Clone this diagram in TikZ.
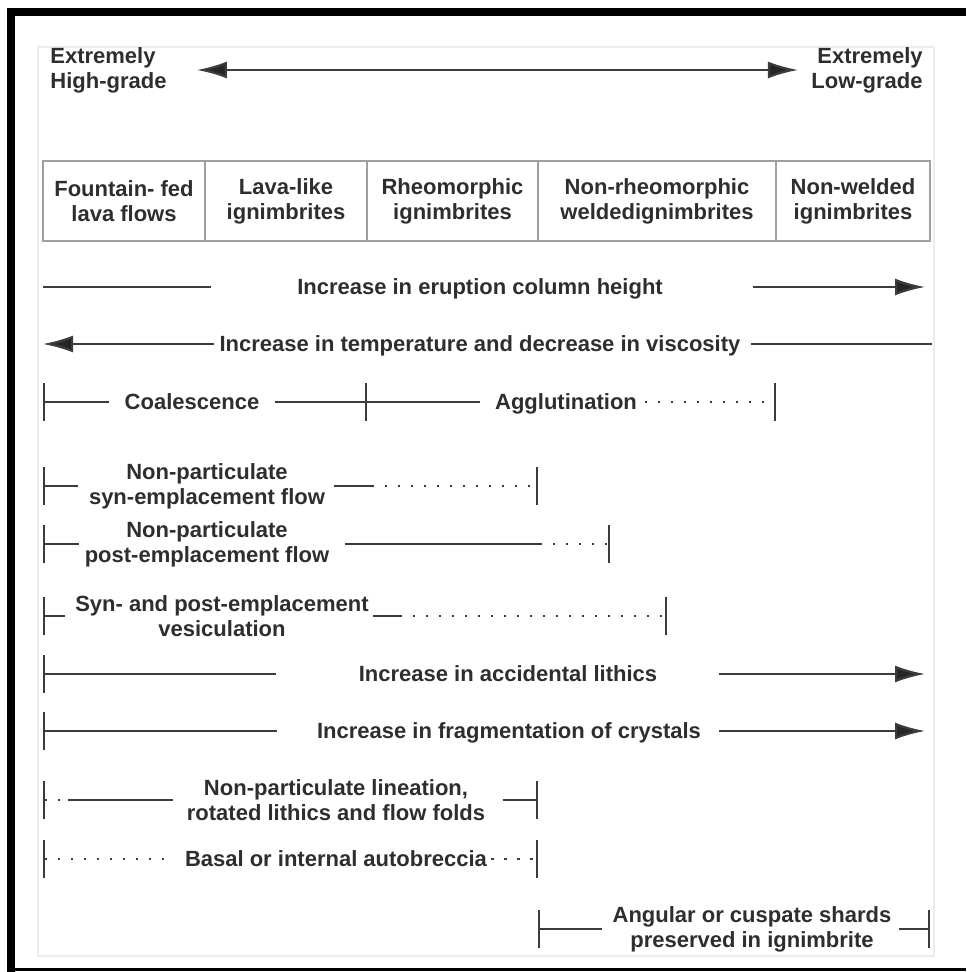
\documentclass[tikz,border=0pt]{standalone}
\usepackage{fontspec}
\setmainfont{Liberation Sans}
\usetikzlibrary{arrows.meta, positioning}
\definecolor{ink}{HTML}{2E2E2E}
\definecolor{rule}{HTML}{3C3C3C}

\begin{document}
\begin{tikzpicture}[
  x=0.5pt, y=-0.5pt,
  lbl/.style={inner sep=0pt, align=center, text=ink,
              font=\fontsize{11}{12.5}\selectfont\bfseries},
  one/.style={lbl, text height=9pt, text depth=1.1pt},
  cell/.style={lbl, draw=gray!75, line width=0.75pt, outer sep=0pt,
               minimum height=40pt},
  ln/.style={rule, line width=1.1pt},
  dots/.style={ln, dash pattern=on 1.1pt off 5.4pt},
  arr/.style={ln, arrows={-Latex[length=15pt,width=8.5pt,fill=black!85]}},
  barA/.style={arrows={Bar[width=19pt]-}},
  barB/.style={arrows={-Bar[width=19pt]}},
]
\useasboundingbox (0,0) rectangle (966,972);

%% ---- frame ----
\fill[black] (7,8) rectangle (966,16);
\fill[black] (7,8) rectangle (15,972);
\fill[black] (7,968) rectangle (966,971);
\draw[gray!15, line width=0.75pt] (38,47) rectangle (934,956);

%% ---- grade scale ----
\node[lbl, align=left, anchor=west]  (hi) at (50,70)  {Extremely\\High-grade};
\node[lbl, align=right, anchor=east] (lo) at (923,70) {Extremely\\Low-grade};
\draw[ln, arrows={Latex[length=15pt,width=8.5pt,fill=black!85]-Latex[length=15pt,width=8.5pt,fill=black!85]},
      shorten <=15pt, shorten >=6.5pt] (hi) -- (lo);

%% ---- deposit types ----
\node[cell, minimum width=81pt, anchor=north west] (fount) at (43,161) {Fountain- fed\\lava flows};
\node[cell, minimum width=81pt,   right=0pt of fount]   (lava)    {Lava-like\\ignimbrites};
\node[cell, minimum width=85.5pt, right=0pt of lava]    (rheo)    {Rheomorphic\\ignimbrites};
\node[cell, minimum width=119pt,  right=0pt of rheo]    (nonrheo) {Non-rheomorphic\\weldedignimbrites};
\node[cell, minimum width=77pt,   right=0pt of nonrheo] (nonweld) {Non-welded\\ignimbrites};

%% ---- trends ----
\node[one] (erupt) at (480,287) {Increase in eruption column height};
\coordinate (eruptL) at (43,287);
\coordinate (eruptR) at (925,287);
\draw[ln, shorten >=43pt] (eruptL) -- (erupt);
\draw[arr, shorten <=45pt] (erupt) -- (eruptR);

\node[one] (temp) at (480,344) {Increase in temperature and decrease in viscosity};
\coordinate (tempL) at (43,344);
\coordinate (tempR) at (932,344);
\draw[arr, shorten <=2.5pt] (temp) -- (tempL);
\draw[ln, shorten <=5pt] (temp) -- (tempR);

%% ---- processes ----
\coordinate (coalA) at (43,402);
\coordinate (coalB) at (367,402);
\coordinate (coalC) at (776,402);
\node[one] (coal) at (192,402) {Coalescence};
\node[one] (aggl) at (566,402) {Agglutination};
\draw[ln, barA, shorten >=7.5pt] (coalA) -- (coal);
\draw[ln, barB, shorten <=7.5pt] (coal) -- (coalB);
\draw[ln, shorten >=7.5pt] (coalB) -- (aggl);
\draw[dots, barB, shorten <=4pt] (aggl) -- (coalC);

\coordinate (synL) at (43,486);
\coordinate (synM) at (372,486);
\coordinate (synR) at (538,486);
\node[lbl] (syn) at (207,486) {Non-particulate\\syn-emplacement flow};
\draw[ln, barA, shorten >=5.5pt] (synL) -- (syn);
\draw[ln, shorten <=4.5pt] (syn) -- (synM);
\draw[dots, barB] (synM) -- (synR);

\coordinate (postL) at (43,544);
\coordinate (postM) at (540,544);
\coordinate (postR) at (610,544);
\node[lbl] (post) at (207,544) {Non-particulate\\post-emplacement flow};
\draw[ln, barA, shorten >=2.5pt] (postL) -- (post);
\draw[ln, shorten <=7.5pt] (post) -- (postM);
\draw[dots, barB] (postM) -- (postR);

\coordinate (vesL) at (43,616);
\coordinate (vesM) at (400,616);
\coordinate (vesR) at (667,616);
\node[lbl] (ves) at (222,616) {Syn- and post-emplacement\\vesiculation};
\draw[ln, barA, shorten >=5pt] (vesL) -- (ves);
\draw[ln, shorten <=2pt] (ves) -- (vesM);
\draw[dots, barB] (vesM) -- (vesR);

%% ---- clasts ----
\coordinate (lithL) at (43,674);
\coordinate (lithR) at (925,674);
\node[one] (lith) at (508,674) {Increase in accidental lithics};
\draw[ln, barA, shorten >=41pt] (lithL) -- (lith);
\draw[arr, shorten <=30.5pt] (lith) -- (lithR);

\coordinate (crystL) at (43,731);
\coordinate (crystR) at (925,731);
\node[one] (cryst) at (509,731) {Increase in fragmentation of crystals};
\draw[ln, barA, shorten >=20pt] (crystL) -- (cryst);
\draw[arr, shorten <=9pt] (cryst) -- (crystR);

%% ---- textures ----
\coordinate (linL) at (43,800);
\coordinate (linM) at (68,800);
\coordinate (linR) at (538,800);
\node[lbl] (lin) at (336,800) {Non-particulate lineation,\\rotated lithics and flow folds};
\draw[dots, barA] (linL) -- (linM);
\draw[ln, shorten >=6.5pt] (linM) -- (lin);
\draw[ln, barB, shorten <=8.5pt] (lin) -- (linR);

\coordinate (brecL) at (43,859);
\coordinate (brecR) at (538,859);
\node[one] (brec) at (336,859) {Basal or internal autobreccia};
\draw[dots, barA, shorten >=6pt] (brecL) -- (brec);
\draw[dots, barB, shorten <=2pt] (brec) -- (brecR);

\coordinate (shardL) at (538,929);
\coordinate (shardR) at (930,929);
\node[lbl] (shard) at (752,929) {Angular or cuspate shards\\preserved in ignimbrite};
\draw[ln, barA, shorten >=5pt] (shardL) -- (shard);
\draw[ln, barB, shorten <=3.5pt] (shard) -- (shardR);

\end{tikzpicture}
\end{document}
